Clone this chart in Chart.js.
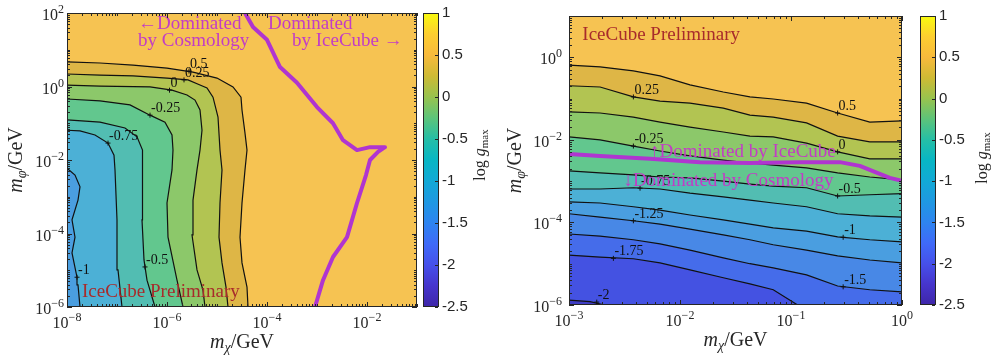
<!DOCTYPE html>
<html>
<head>
<meta charset="utf-8">
<script src="https://cdn.jsdelivr.net/npm/chart.js@4.4.0/dist/chart.umd.min.js"></script>
<style>
  body { margin: 0; background: #fff; }
  #wrap { position: relative; width: 993px; height: 358px; }
  canvas { position: absolute; top: 0; display: block; }
</style>
</head>
<body>
<div id="wrap">
  <canvas id="left" width="490" height="358" style="left:0"></canvas>
  <canvas id="right" width="503" height="358" style="left:490px"></canvas>
</div>
<script>
// All points are [log10(m_chi / GeV), log10(m_phi / GeV)].

// ---- left panel ----
var leftLevels = [-1, -0.75, -0.5, -0.25, 0, 0.25, 0.5];
var leftContours = [
    [[-7.74,-6],[-7.78,-5.40],[-7.80,-5.19],[-7.90,-4.53],[-7.84,-4.10],[-7.90,-3.63],[-7.78,-3.09],[-7.74,-2.73],[-7.84,-2.41],[-8,-2.22]],
    [[-6.90,-6],[-6.98,-4.99],[-7.00,-3.63],[-7.04,-2.27],[-7.06,-1.87],[-7.18,-1.54],[-7.44,-1.32],[-7.74,-1.21],[-8,-1.19]],
    [[-6.24,-6],[-6.40,-5.27],[-6.46,-4.72],[-6.50,-3.63],[-6.48,-2.27],[-6.50,-1.73],[-6.60,-1.37],[-6.84,-1.13],[-7.34,-0.97],[-8,-0.91]],
    [[-5.68,-6],[-5.80,-5.27],[-5.98,-4.10],[-6.00,-3.17],[-5.90,-2.27],[-5.88,-1.73],[-5.90,-1.32],[-6.04,-0.97],[-6.34,-0.78],[-6.74,-0.50],[-7.34,-0.39],[-8,-0.34]],
    [[-5.24,-6],[-5.28,-5.54],[-5.40,-4.99],[-5.50,-4.04],[-5.48,-3.09],[-5.40,-2.27],[-5.34,-1.73],[-5.30,-1.19],[-5.34,-0.64],[-5.44,-0.37],[-5.60,-0.23],[-5.90,-0.10],[-6.34,-0.01],[-7.34,0.01],[-8,0.04]],
    [[-4.78,-6],[-4.82,-5.46],[-4.90,-4.80],[-4.96,-4.10],[-4.94,-3.17],[-4.90,-2.27],[-4.94,-1.73],[-4.98,-0.83],[-5.08,-0.29],[-5.20,-0.04],[-5.34,0.04],[-5.58,0.18],[-6.00,0.23],[-6.68,0.29],[-7.34,0.31],[-8,0.34]],
    [[-4.38,-6],[-4.40,-5.46],[-4.50,-4.80],[-4.54,-4.10],[-4.50,-3.17],[-4.44,-2.27],[-4.40,-1.73],[-4.44,-1.27],[-4.50,-0.64],[-4.52,-0.29],[-4.68,-0.01],[-5.00,0.23],[-5.48,0.39],[-6.00,0.50],[-6.68,0.58],[-7.34,0.64],[-8,0.67]]
];
// where each contour label sits (same order as leftLevels)
var leftLabelAt = [[-7.80,-5.19],[-7.18,-1.54],[-6.44,-4.91],[-6.34,-0.78],[-5.95,-0.10],[-5.66,0.18],[-5.56,0.42]];
var leftBoundary = [[-4.44,2.0],[-4.28,1.62],[-4.00,1.27],[-3.74,0.53],[-3.40,0.10],[-3.00,-0.56],[-2.68,-1.00],[-2.48,-1.46],[-2.20,-1.73],
    [-1.94,-1.65],[-1.64,-1.65],[-1.78,-1.78],[-1.94,-2.00],[-2.02,-2.41],[-2.20,-3.17],[-2.40,-4.10],[-2.68,-4.64],[-2.88,-5.27],[-3.04,-6.0]];
var leftXTicks = [-8, -6, -4, -2];
var leftYTicks = [-6, -4, -2, 0, 2];

// ---- right panel ----
var rightLevels = [-2, -1.75, -1.5, -1.25, -1, -0.75, -0.5, -0.25, 0, 0.25, 0.5];
var rightContours = [
    [[-3,-5.88],[-2.81,-5.92],[-2.68,-6]],
    [[-3,-4.79],[-2.72,-4.84],[-2.42,-4.88],[-2.18,-4.98],[-1.91,-5.15],[-1.61,-5.34],[-1.37,-5.49],[-1.16,-5.63],[-0.94,-6]],
    [[-3,-4.28],[-2.72,-4.33],[-2.42,-4.42],[-2.18,-4.52],[-1.91,-4.67],[-1.61,-4.86],[-1.37,-5.00],[-1.16,-5.10],[-0.86,-5.27],[-0.58,-5.54],[-0.29,-5.63],[0,-5.68]],
    [[-3,-3.79],[-2.72,-3.87],[-2.42,-3.96],[-2.18,-4.04],[-1.91,-4.16],[-1.61,-4.30],[-1.37,-4.42],[-1.16,-4.54],[-0.86,-4.67],[-0.58,-4.81],[-0.29,-4.91],[0,-4.98]],
    [[-3,-3.50],[-2.72,-3.53],[-2.42,-3.62],[-2.18,-3.70],[-1.91,-3.82],[-1.61,-3.94],[-1.37,-4.04],[-1.16,-4.13],[-0.86,-4.21],[-0.58,-4.35],[-0.29,-4.42],[0,-4.47]],
    [[-3,-3.19],[-2.72,-3.19],[-2.42,-3.16],[-2.18,-3.19],[-1.91,-3.29],[-1.61,-3.38],[-1.37,-3.46],[-1.16,-3.53],[-0.86,-3.62],[-0.58,-3.79],[-0.29,-3.84],[0,-3.87]],
    [[-3,-2.75],[-2.72,-2.80],[-2.42,-2.85],[-2.18,-2.90],[-1.91,-2.92],[-1.61,-3.00],[-1.37,-3.07],[-1.16,-3.12],[-0.86,-3.16],[-0.58,-3.36],[-0.29,-3.33],[0,-3.30]],
    [[-3,-1.93],[-2.72,-2.00],[-2.42,-2.15],[-2.18,-2.27],[-1.91,-2.39],[-1.61,-2.49],[-1.37,-2.56],[-1.16,-2.61],[-0.86,-2.68],[-0.58,-2.80],[-0.29,-2.90],[0,-2.97]],
    [[-3,-1.32],[-2.72,-1.35],[-2.42,-1.45],[-2.18,-1.57],[-1.91,-1.69],[-1.61,-1.81],[-1.37,-1.91],[-1.16,-1.93],[-0.86,-2.08],[-0.58,-2.29],[-0.29,-2.46],[0,-2.46]],
    [[-3,-0.69],[-2.72,-0.72],[-2.42,-0.96],[-2.18,-1.06],[-1.91,-1.11],[-1.61,-1.23],[-1.37,-1.40],[-1.16,-1.45],[-0.86,-1.59],[-0.58,-1.91],[-0.29,-2.05],[0,-2.05]],
    [[-3,-0.19],[-2.72,-0.23],[-2.42,-0.33],[-2.18,-0.45],[-1.91,-0.67],[-1.61,-0.84],[-1.37,-0.96],[-1.16,-1.01],[-0.86,-1.11],[-0.58,-1.35],[-0.29,-1.57],[0,-1.54]]
];
var rightLabelAt = [[-2.75,-5.93],[-2.60,-4.87],[-0.53,-5.56],[-2.42,-3.96],[-0.53,-4.36],[-2.36,-3.17],[-0.58,-3.36],[-2.42,-2.15],[-0.58,-2.29],[-2.42,-0.96],[-0.58,-1.35]];
var rightBoundary = [[-3,-2.34],[-2.72,-2.39],[-2.27,-2.46],[-1.82,-2.54],[-1.37,-2.56],[-0.92,-2.54],[-0.56,-2.54],[-0.38,-2.63],[-0.24,-2.78],[-0.11,-2.92],[0,-2.99]];
var rightXTicks = [-3, -2, -1, 0];
var rightYTicks = [-6, -4, -2, 0];

// colour bar
var cbTicks = [-2.5, -2, -1.5, -1, -0.5, 0, 0.5, 1];

var SERIF = '"Liberation Serif", "DejaVu Serif", serif';
var SANS = '"Liberation Sans", Arial, sans-serif';
var INK = '#262626';
var MAGENTA_TEXT = '#c23cc6';
var RED = '#a82b2b';

// fill colour of the band whose lower edge is the key
var regionColors = {
    '-2.25': '#3f3dc4', '-2': '#4452e2', '-1.75': '#456cea', '-1.5': '#4888e6', '-1.25': '#4a9ee0',
    '-1': '#4cb0d6', '-0.75': '#52bdb2', '-0.5': '#62c78e', '-0.25': '#8cc86a', '0': '#b2c452',
    '0.25': '#deb646', '0.5': '#f6c352'
};
var cbStops = [[-2.5,'#3e26a8'],[-2.25,'#4635cc'],[-2,'#4650ea'],[-1.75,'#3f6af8'],[-1.5,'#2e84f0'],[-1.25,'#1f98e2'],
    [-1,'#12a9d6'],[-0.75,'#08b6c4'],[-0.5,'#25bea6'],[-0.25,'#5cc47a'],[0,'#98c34e'],[0.25,'#ceba34'],
    [0.5,'#f8ba3c'],[0.75,'#fdce30'],[1,'#f9fb0e']];

function pts(list) {
    return list.map(function (p) { return {x: Math.pow(10, p[0]), y: Math.pow(10, p[1])}; });
}

// draw mixed italic / sub-scripted text; parts = [text, size, italic, dy]
function drawRich(ctx, parts, x, y, align) {
    var widths = [], total = 0;
    parts.forEach(function (p) {
        ctx.font = (p[2] ? 'italic ' : '') + p[1] + 'px ' + SERIF;
        var w = ctx.measureText(p[0]).width;
        widths.push(w);
        total += w;
    });
    var cx = align === 'center' ? x - total / 2 : (align === 'right' ? x - total : x);
    ctx.textAlign = 'left';
    ctx.textBaseline = 'alphabetic';
    parts.forEach(function (p, i) {
        ctx.font = (p[2] ? 'italic ' : '') + p[1] + 'px ' + SERIF;
        ctx.fillText(p[0], cx, y + (p[3] || 0));
        cx += widths[i];
    });
}

function powParts(e) {
    return [['10', 16], [(e < 0 ? '\u2212' : '') + Math.abs(e), 12, false, -7]];
}

function makePanel(p) {
    var xMin = Math.pow(10, p.xRange[0]), xMax = Math.pow(10, p.xRange[1]);
    var yMin = Math.pow(10, p.yRange[0]), yMax = Math.pow(10, p.yRange[1]);
    var datasets = [];

    p.levels.forEach(function (lev, i) {
        var poly = pts(p.contours[i]);
        var last = poly[poly.length - 1];
        poly.push({x: last.x, y: yMin}, {x: xMin, y: yMin});
        datasets.push({
            data: poly, fill: 'shape', backgroundColor: regionColors[String(lev - 0.25)],
            borderColor: 'rgba(0,0,0,0)', borderWidth: 0, pointRadius: 0, order: 100 + i, clip: 0
        });
        datasets.push({
            data: pts(p.contours[i]), fill: false, borderColor: '#111',
            borderWidth: 1.2, pointRadius: 0, order: 10, clip: 0
        });
    });
    datasets.push({
        data: pts(p.boundary), fill: false, borderColor: '#b035d0', borderWidth: 4,
        borderCapStyle: 'round', borderJoinStyle: 'round', pointRadius: 0, order: 0, clip: 0
    });

    var plugin = {
        id: 'panelDecor',
        beforeDatasetsDraw: function (chart) {
            var a = chart.chartArea, ctx = chart.ctx;
            ctx.save();
            ctx.fillStyle = regionColors[String(p.levels[p.levels.length - 1])];
            ctx.fillRect(a.left, a.top, a.right - a.left, a.bottom - a.top);
            ctx.restore();
        },
        afterDatasetsDraw: function (chart) {
            var a = chart.chartArea, ctx = chart.ctx;
            var xs = chart.scales.x, ys = chart.scales.y, cb = chart.scales.cb;
            function X(l) { return xs.getPixelForValue(Math.pow(10, l)); }
            function Y(l) { return ys.getPixelForValue(Math.pow(10, l)); }
            ctx.save();

            // contour labels with '+' markers
            ctx.strokeStyle = '#111';
            ctx.fillStyle = '#111';
            ctx.lineWidth = 1;
            p.labelAt.forEach(function (q, i) {
                var px = X(q[0]), py = Y(q[1]);
                ctx.beginPath();
                ctx.moveTo(px - 2.5, py); ctx.lineTo(px + 2.5, py);
                ctx.moveTo(px, py - 2.5); ctx.lineTo(px, py + 2.5);
                ctx.stroke();
                ctx.font = '14px ' + SERIF;
                ctx.textAlign = 'left';
                ctx.textBaseline = 'alphabetic';
                ctx.fillText(String(p.levels[i]), px + 1, py - 3);
            });

            // annotations
            p.notes.forEach(function (n) {
                ctx.fillStyle = n[3];
                ctx.font = '19px ' + SERIF;
                ctx.textAlign = 'left';
                ctx.textBaseline = 'alphabetic';
                ctx.fillText(n[0], X(n[1]), Y(n[2]));
            });

            // axis box and inward ticks
            ctx.strokeStyle = INK;
            ctx.lineWidth = 1;
            ctx.strokeRect(Math.round(a.left) + 0.5, Math.round(a.top) + 0.5,
                Math.round(a.right - a.left) - 1, Math.round(a.bottom - a.top) - 1);
            ctx.beginPath();
            var d, k, v, len, q;
            for (d = p.xRange[0]; d <= p.xRange[1]; d++) {
                for (k = 1; k <= 9; k++) {
                    v = k * Math.pow(10, d);
                    if (v > xMax * 1.0001) break;
                    len = (k === 1 && p.xTicks.indexOf(d) >= 0) ? 5 : 3;
                    q = Math.round(xs.getPixelForValue(v)) + 0.5;
                    ctx.moveTo(q, a.bottom); ctx.lineTo(q, a.bottom - len);
                    ctx.moveTo(q, a.top); ctx.lineTo(q, a.top + len);
                }
            }
            for (d = p.yRange[0]; d <= p.yRange[1]; d++) {
                for (k = 1; k <= 9; k++) {
                    v = k * Math.pow(10, d);
                    if (v > yMax * 1.0001) break;
                    len = (k === 1 && p.yTicks.indexOf(d) >= 0) ? 5 : 3;
                    q = Math.round(ys.getPixelForValue(v)) + 0.5;
                    ctx.moveTo(a.left, q); ctx.lineTo(a.left + len, q);
                    ctx.moveTo(a.right, q); ctx.lineTo(a.right - len, q);
                }
            }
            ctx.stroke();

            // tick labels
            ctx.fillStyle = INK;
            p.xTicks.forEach(function (e) { drawRich(ctx, powParts(e), X(e), a.bottom + 21, 'center'); });
            p.yTicks.forEach(function (e) { drawRich(ctx, powParts(e), a.left - p.yLabelGap, Y(e) + 7, 'right'); });

            // axis titles
            drawRich(ctx, [['m', 20, true], ['\u03c7', 14, true, 4], ['/GeV', 20]], (a.left + a.right) / 2, a.bottom + 41, 'center');
            ctx.save();
            ctx.translate(p.yTitleX, (a.top + a.bottom) / 2);
            ctx.rotate(-Math.PI / 2);
            drawRich(ctx, [['m', 20, true], ['\u03c6', 14, true, 4], ['/GeV', 20]], 0, 0, 'center');
            ctx.restore();

            // colour bar
            var t = cb.getPixelForValue(cb.max), b = cb.getPixelForValue(cb.min);
            var g = ctx.createLinearGradient(0, b, 0, t);
            cbStops.forEach(function (s) { g.addColorStop((s[0] - cb.min) / (cb.max - cb.min), s[1]); });
            ctx.fillStyle = g;
            ctx.fillRect(p.cbLeft, t, p.cbWidth, b - t);
            ctx.strokeStyle = INK;
            ctx.strokeRect(p.cbLeft + 0.5, Math.round(t) + 0.5, p.cbWidth, Math.round(b - t) - 1);
            ctx.beginPath();
            cbTicks.forEach(function (v) {
                var y = Math.round(cb.getPixelForValue(v)) + 0.5;
                ctx.moveTo(p.cbLeft + p.cbWidth, y); ctx.lineTo(p.cbLeft + p.cbWidth - 3, y);
            });
            ctx.stroke();
            ctx.fillStyle = INK;
            ctx.font = '15px ' + SANS;
            ctx.textAlign = 'left';
            ctx.textBaseline = 'middle';
            cbTicks.forEach(function (v) {
                ctx.fillText(String(v), p.cbLeft + p.cbWidth + 4, cb.getPixelForValue(v));
            });
            ctx.save();
            ctx.translate(p.cbTitleX, p.cbTitleY);
            ctx.rotate(-Math.PI / 2);
            drawRich(ctx, [['log ', 16], ['g', 16, true], ['max', 11, false, 3]], 0, 0, 'center');
            ctx.restore();

            ctx.restore();
        }
    };

    var canvas = document.getElementById(p.canvas);
    return new Chart(canvas.getContext('2d'), {
        type: 'line',
        data: {datasets: datasets},
        options: {
            responsive: false,
            animation: false,
            layout: {padding: p.padding},
            plugins: {legend: {display: false}, tooltip: {enabled: false}},
            elements: {line: {tension: 0}, point: {radius: 0}},
            scales: {
                x: {type: 'logarithmic', min: xMin, max: xMax, display: false},
                y: {type: 'logarithmic', min: yMin, max: yMax, display: false},
                cb: {type: 'linear', axis: 'y', min: -2.5, max: 1, display: false}
            }
        },
        plugins: [plugin]
    });
}

makePanel({
    canvas: 'left',
    padding: {left: 67, top: 13, right: 73, bottom: 51},
    xRange: [-8, -1], yRange: [-6, 2],
    xTicks: leftXTicks, yTicks: leftYTicks, yLabelGap: 3,
    levels: leftLevels, contours: leftContours, labelAt: leftLabelAt, boundary: leftBoundary,
    notes: [
        ['\u2190Dominated', -6.58, 1.56, MAGENTA_TEXT],
        ['by Cosmology', -6.58, 1.10, MAGENTA_TEXT],
        ['Dominated', -3.98, 1.56, MAGENTA_TEXT],
        ['by IceCube \u2192', -3.50, 1.10, MAGENTA_TEXT],
        ['IceCube Preliminary', -7.70, -5.73, RED]
    ],
    yTitleX: 22,
    cbLeft: 423, cbWidth: 15, cbTitleX: 485, cbTitleY: 155
});

makePanel({
    canvas: 'right',
    padding: {left: 79, top: 16, right: 91, bottom: 53},
    xRange: [-3, 0], yRange: [-6, 1],
    xTicks: rightXTicks, yTicks: rightYTicks, yLabelGap: 7,
    levels: rightLevels, contours: rightContours, labelAt: rightLabelAt, boundary: rightBoundary,
    notes: [
        ['\u2191Dominated by IceCube', -2.27, -2.41, MAGENTA_TEXT],
        ['\u2193Dominated by Cosmology', -2.51, -3.12, MAGENTA_TEXT],
        ['IceCube Preliminary', -2.88, 0.42, RED]
    ],
    yTitleX: 31,
    cbLeft: 430, cbWidth: 15, cbTitleX: 497, cbTitleY: 158
});
</script>
</body>
</html>
